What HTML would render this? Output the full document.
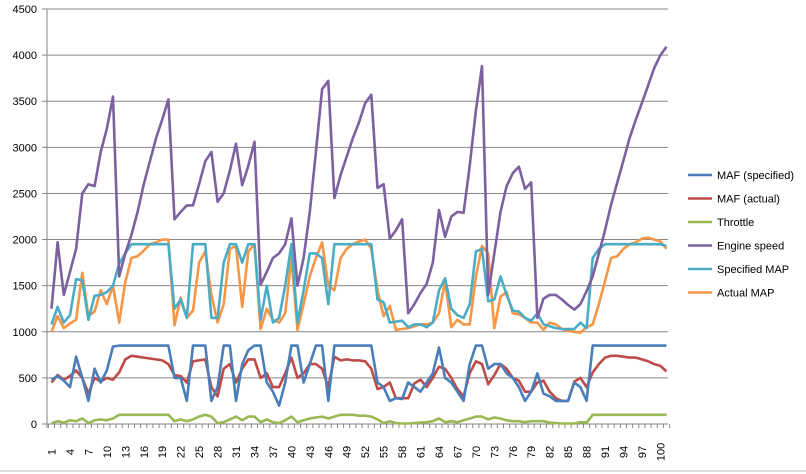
<!DOCTYPE html>
<html><head><meta charset="utf-8"><style>
body{margin:0;background:#fff;}
svg{display:block;font-family:"Liberation Sans",sans-serif;}
</style></head><body>
<svg id="c" width="806" height="474" xmlns="http://www.w3.org/2000/svg"></svg>
<script>
const E=[1250,1970,1400,1650,1900,2500,2600,2580,2950,3200,3550,1600,1850,2050,2300,2600,2850,3100,3300,3520,2220,2300,2370,2370,2600,2850,2950,2410,2500,2750,3040,2590,2800,3060,1510,1650,1800,1850,1950,2230,1500,1800,2300,2950,3630,3720,2450,2700,2900,3100,3270,3480,3570,2560,2600,2010,2100,2220,1200,1300,1420,1520,1750,2320,2030,2250,2300,2290,2800,3400,3880,1400,1850,2300,2580,2720,2790,2550,2620,1150,1360,1400,1400,1350,1290,1240,1300,1440,1600,1850,2100,2380,2620,2860,3100,3300,3480,3670,3860,4000,4090];
const SM=[1080,1270,1100,1180,1570,1560,1130,1390,1400,1430,1500,1740,1850,1950,1950,1950,1950,1950,1950,1950,1250,1350,1150,1950,1950,1950,1150,1150,1750,1950,1950,1750,1950,1950,1130,1500,1100,1150,1500,1950,1100,1450,1850,1850,1800,1300,1950,1950,1950,1950,1950,1950,1950,1350,1320,1100,1110,1120,1050,1080,1080,1050,1100,1450,1580,1250,1180,1150,1300,1870,1900,1330,1350,1600,1400,1230,1220,1150,1120,1200,1080,1060,1040,1030,1030,1030,1100,1040,1800,1900,1950,1950,1950,1950,1950,1950,1950,1950,1950,1950,1930];
const AM=[1000,1170,1040,1090,1130,1640,1170,1220,1450,1300,1500,1100,1540,1800,1820,1880,1950,1970,2000,2000,1070,1370,1150,1230,1750,1870,1400,1100,1300,1900,1930,1270,1870,1950,1030,1250,1130,1100,1200,1800,1020,1300,1600,1800,1970,1500,1450,1800,1900,1950,1980,2000,1900,1450,1170,1280,1020,1030,1040,1060,1080,1080,1100,1200,1550,1050,1130,1080,1080,1600,1930,1850,1040,1380,1430,1200,1190,1150,1100,1100,1020,1100,1080,1030,1010,1000,990,1050,1080,1300,1550,1800,1820,1900,1950,1970,2010,2020,2000,1980,1900];
const MS=[480,520,470,400,730,500,250,600,450,580,840,850,850,850,850,850,850,850,850,850,500,500,250,850,850,850,250,400,850,850,250,650,800,850,850,450,350,200,450,850,850,450,650,850,850,250,850,850,850,850,850,850,850,450,400,250,280,270,450,400,350,450,550,830,500,450,350,250,650,850,850,600,650,650,550,500,400,250,350,550,330,300,250,250,250,450,400,250,850,850,850,850,850,850,850,850,850,850,850,850,850];
const MA=[450,530,480,520,580,500,330,500,460,500,480,560,700,740,730,720,710,700,690,650,530,520,450,680,690,700,400,300,600,650,450,600,700,700,500,550,400,400,550,720,500,550,650,650,600,400,730,690,700,690,690,680,600,380,400,450,280,280,280,440,480,400,500,620,600,500,380,300,550,680,650,430,530,650,600,500,470,350,350,450,470,350,280,250,250,460,500,400,560,650,720,740,740,730,720,720,700,680,650,630,570];
const T=[10,30,15,40,30,60,10,40,50,40,60,100,100,100,100,100,100,100,100,100,30,50,30,50,80,100,80,10,20,50,80,40,80,80,20,50,20,10,40,80,20,40,60,70,80,60,80,100,100,100,90,90,80,50,10,30,10,5,5,10,15,20,30,60,20,30,20,40,60,80,80,50,70,60,40,30,30,20,30,30,30,15,10,5,5,5,20,15,100,100,100,100,100,100,100,100,100,100,100,100,100];
const s=document.getElementById('c');let h='';
const Y=v=>424-v*46.11/500, X=i=>51.5+i*6.15;
for(let k=0;k<=9;k++){const y=Y(k*500);h+=`<line x1="42" x2="668" y1="${y}" y2="${y}" stroke="#868686" stroke-width="1"/>`;
h+=`<text x="37" y="${y+4}" font-size="11" text-anchor="end">${k*500}</text>`;}
h+=`<line x1="47" x2="47" y1="9" y2="428" stroke="#868686"/>`;
for(let i=0;i<=101;i++){const x=48.4+i*6.15;h+=`<line x1="${x}" x2="${x}" y1="424" y2="428" stroke="#868686"/>`;}
for(let i=1;i<=101;i+=3){const x=X(i-1)+4;h+=`<text transform="translate(${x},452) rotate(-90)" font-size="11" text-anchor="middle">${i}</text>`;}
const ser=[[T,'#98b954'],[MA,'#be4b48'],[MS,'#4a7ebb'],[AM,'#f79646'],[SM,'#4bacc6'],[E,'#7d60a0']];
ser.forEach(([d,c])=>{h+=`<polyline fill="none" stroke="${c}" stroke-width="2.6" stroke-linejoin="round" points="${d.map((v,i)=>X(i).toFixed(1)+','+Y(v).toFixed(1)).join(' ')}"/>`;});
const L=[['MAF (specified)','#4a7ebb'],['MAF (actual)','#be4b48'],['Throttle','#98b954'],['Engine speed','#7d60a0'],['Specified MAP','#4bacc6'],['Actual MAP','#f79646']];
L.forEach(([t,c],i)=>{const y=175+i*23.5;h+=`<line x1="688" x2="712" y1="${y}" y2="${y}" stroke="${c}" stroke-width="2.6"/><text x="717" y="${y+4}" font-size="11">${t}</text>`;});
h+=`<line x1="0" x2="806" y1="471" y2="471" stroke="#bbb"/>`;
s.innerHTML=h;
</script>
</body></html>
